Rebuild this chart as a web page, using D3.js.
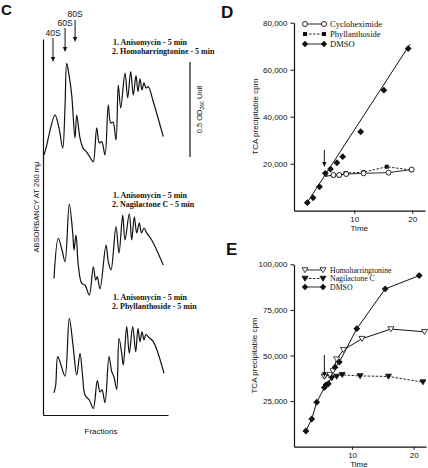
<!DOCTYPE html>
<html><head><meta charset="utf-8">
<script src="https://cdn.jsdelivr.net/npm/d3@7"></script>
<style>body{margin:0;background:#fff}svg{display:block}</style>
</head><body>
<svg id="fig" width="428" height="468"></svg>
<script>
// ---------------- DATA ----------------
// Panel C: sucrose-gradient profiles [fraction, A260]
const profileTreatments = [
  ["1. Anisomycin - 5 min", "2. Homoharringtonine - 5 min"],
  ["1. Anisomycin - 5 min", "2. Nagilactone C - 5 min"],
  ["1. Anisomycin - 5 min", "2. Phyllanthoside - 5 min"]
];
const profileHomoharringtonine = [[0.24,0.053],[0.72,0.089],[2.88,0.263],[3.84,0.195],[4.73,0.089],[5.28,0.305],[5.69,0.535],[6.24,0.474],[6.89,0.368],[7.68,0.142],[8.09,0.263],[8.88,0.142],[9.6,0.089],[10.49,0.068],[11.69,0.026],[12.07,0.017],[12.89,0.195],[13.51,0.116],[14.09,0.123],[14.88,0.053],[15.67,0.316],[16.25,0.221],[16.8,0.226],[17.52,0.132],[18.07,0.421],[18.65,0.3],[19.68,0.484],[20.33,0.353],[21.05,0.491],[21.67,0.368],[22.32,0.47],[22.8,0.386],[23.28,0.453],[23.76,0.395],[24.24,0.432],[24.72,0.405],[25.27,0.412],[26.47,0.333],[28.87,0.149]];
const profileNagilactone = [[2.64,0.114],[3.67,0.325],[4.56,0.263],[5.28,0.202],[6.31,0.505],[7.13,0.353],[7.44,0.263],[7.92,0.342],[8.47,0.184],[9.29,0.088],[10.08,0.079],[11.11,0.026],[12.07,0.175],[12.65,0.105],[13.03,0.123],[13.68,0.058],[15.12,0.289],[15.67,0.202],[16.32,0.158],[17.52,0.386],[18.24,0.247],[19.13,0.447],[19.68,0.316],[20.71,0.453],[21.29,0.316],[21.91,0.438],[22.49,0.353],[23.11,0.405],[23.64,0.353],[24.24,0.379],[24.89,0.353],[26.09,0.316],[28.87,0.184]];
const profilePhyllanthoside = [[2.64,0.117],[3.05,0.158],[3.53,0.307],[4.32,0.263],[5.28,0.205],[6.31,0.509],[7.2,0.368],[8.09,0.211],[8.88,0.325],[9.48,0.211],[10.08,0.105],[11.11,0.079],[12.07,0.035],[13.03,0.181],[13.68,0.121],[14.16,0.132],[14.88,0.065],[15.84,0.307],[16.49,0.228],[17.04,0.2],[17.69,0.135],[18.24,0.404],[18.89,0.325],[19.27,0.263],[20.09,0.465],[20.71,0.325],[21.53,0.465],[22.25,0.333],[22.8,0.456],[23.28,0.386],[23.76,0.438],[24.24,0.395],[24.72,0.425],[25.27,0.411],[26.47,0.386],[29.04,0.219]];
const sedimentationLabels = ["40S", "60S", "80S"];
const sedimentationFractions = [2.4, 5.3, 7.7];
const scaleBarOD = 0.5;

// Panel D: TCA precipitable cpm vs time
const dDMSO = [[1.9,3400],[2.9,5500],[4.0,10200],[5.0,15900],[5.9,17700],[7.0,20400],[8.0,23000],[11.1,33600],[15.1,51300],[19.3,69000]];
const dDMSOFit = [[1.7,2800],[19.6,70800]];
const dCycloheximide = [[5.0,14600],[6.4,15200],[7.4,15200],[8.6,15600],[11.6,15900],[15.9,16200],[19.9,17500]];
const dPhyllanthoside = [[5.0,14800],[6.4,15000],[7.4,15000],[8.5,16000],[11.6,16400],[15.6,18700],[19.9,17300]];
const dTicksY = [20000, 40000, 60000, 80000];
const dTicksX = [10, 20];
const dArrowTime = 5;

// Panel E
const eDMSO = [[2.5,8600],[3.45,15200],[4.26,24400],[5.5,32400],[5.77,33900],[6.15,34500],[7.24,43600],[7.93,46400],[10.76,64700],[15.37,86500],[20.9,93800]];
const eHomoharringtonine = [[5.5,38500],[6.4,39500],[6.9,41500],[7.5,48000],[8.6,53100],[11.6,59200],[16.3,64500],[21.75,63000]];
const eNagilactone = [[5.5,38500],[6.7,37600],[7.5,38500],[8.4,39400],[11.3,38800],[15.9,38500],[21.5,35400]];
const eTicksY = [25000, 50000, 75000, 100000];
const eTicksX = [10, 20];
const eArrowTime = 5.5;

// ---------------- DRAW ----------------
const svg = d3.select("#fig");
const ink = "#111";
const sans = "'Liberation Sans', Arial, sans-serif";
const serif = "'Liberation Serif', 'Times New Roman', serif";

function arrow(g, x, y0, y1) {
  g.append("line").attr("x1", x).attr("x2", x).attr("y1", y0).attr("y2", y1 - 4)
    .attr("stroke", ink).attr("stroke-width", 1);
  g.append("path").attr("d", `M${x-2.2},${y1-5}L${x+2.2},${y1-5}L${x},${y1}Z`).attr("fill", ink);
}

// ===== Panel C =====
const gC = svg.append("g");
gC.append("text").attr("x", 1).attr("y", 15).text("C")
  .attr("font-family", sans).attr("font-weight", "bold").attr("font-size", 15).attr("fill", ink);

const xC = d3.scaleLinear().domain([0, 30]).range([43, 168]);
const cBases = [165, 300, 415];
const yCs = cBases.map(b => d3.scaleLinear().domain([0, 0.5]).range([b, b - 95]));
const profiles = [profileHomoharringtonine, profileNagilactone, profilePhyllanthoside];

const yFrame = d3.scaleLinear().domain([0, 1]).range([415, 39]);
gC.append("g").attr("transform", "translate(43,0)")
  .call(d3.axisLeft(yFrame).tickValues([]).tickSizeOuter(0))
  .select(".domain").attr("stroke", ink).attr("stroke-width", 1.2);
gC.append("g").attr("transform", "translate(0,415)")
  .call(d3.axisBottom(xC).tickValues([]).tickSizeOuter(0))
  .select(".domain").attr("stroke", ink).attr("stroke-width", 1.2);

profiles.forEach((p, i) => {
  const ln = d3.line().curve(d3.curveCatmullRom.alpha(0.5))
    .x(d => xC(d[0])).y(d => yCs[i](d[1]));
  gC.append("path").attr("d", ln(p)).attr("fill", "none")
    .attr("stroke", ink).attr("stroke-width", 1.2);
});

const labelY = [[45, 54], [198, 207], [300, 309]];
profileTreatments.forEach((t, i) => {
  t.forEach((s, j) => {
    gC.append("text").attr("x", 112 + (j === 0 ? 1 : 0)).attr("y", labelY[i][j]).text(s)
      .attr("font-family", serif).attr("font-weight", "bold").attr("font-size", 8).attr("fill", ink);
  });
});

const arrowTops = [[36, 38, 62], [26, 28, 52], [17, 20, 42]];
sedimentationLabels.forEach((s, i) => {
  const x = xC(sedimentationFractions[i]);
  gC.append("text").attr("x", x).attr("y", arrowTops[i][0]).attr("text-anchor", "middle").text(s)
    .attr("font-family", sans).attr("font-size", 8.5).attr("fill", ink);
  arrow(gC, x, arrowTops[i][1], arrowTops[i][2]);
});

const ySB = d3.scaleLinear().domain([0, scaleBarOD]).range([157, 62]);
gC.append("line").attr("x1", 190).attr("x2", 190).attr("y1", ySB(0)).attr("y2", ySB(scaleBarOD))
  .attr("stroke", ink).attr("stroke-width", 1.2);
const sbT = gC.append("text").attr("transform", `translate(202,${ySB(scaleBarOD/2)}) rotate(-90)`)
  .attr("text-anchor", "middle").attr("font-family", sans).attr("font-size", 7.5).attr("fill", ink);
sbT.append("tspan").text(scaleBarOD + " OD");
sbT.append("tspan").text("260").attr("font-size", 5).attr("dy", 2);
sbT.append("tspan").text(" Unit").attr("dy", -2);

gC.append("text").attr("transform", "translate(39,207) rotate(-90)").attr("text-anchor", "middle")
  .text("ABSORBANCY AT 260 mμ").attr("font-family", sans).attr("font-size", 7.6).attr("fill", ink);
gC.append("text").attr("x", 101).attr("y", 434).attr("text-anchor", "middle").text("Fractions")
  .attr("font-family", sans).attr("font-size", 8).attr("fill", ink);

// ===== helpers for D and E =====
function diamond(g, x, y, r) {
  g.append("path").attr("d", `M${x},${y-r}L${x+r},${y}L${x},${y+r}L${x-r},${y}Z`).attr("fill", ink);
}
function triDown(g, x, y, filled) {
  g.append("path").attr("d", `M${x-3},${y-2.3}L${x+3},${y-2.3}L${x},${y+2.7}Z`)
    .attr("fill", filled ? ink : "#fff").attr("stroke", ink).attr("stroke-width", 0.8);
}
function circ(g, x, y) {
  g.append("circle").attr("cx", x).attr("cy", y).attr("r", 2.5).attr("fill", "#fff")
    .attr("stroke", ink).attr("stroke-width", 0.9);
}
function sq(g, x, y) {
  g.append("rect").attr("x", x - 2).attr("y", y - 2).attr("width", 4).attr("height", 4).attr("fill", ink);
}

function axesPanel(g, x, y, ticksX, ticksY, xAxisY, yLabelX) {
  const ax = g.append("g").attr("transform", `translate(0,${xAxisY})`)
    .call(d3.axisBottom(x).tickValues(ticksX).tickSize(3).tickSizeOuter(0).tickPadding(3));
  const ay = g.append("g").attr("transform", `translate(${x.range()[0]},0)`)
    .call(d3.axisLeft(y).tickValues(ticksY).tickSize(3.5).tickSizeOuter(0).tickPadding(3)
      .tickFormat(d3.format(",")));
  [ax, ay].forEach(a => {
    a.select(".domain").attr("stroke", ink).attr("stroke-width", 1.2);
    a.selectAll(".tick line").attr("stroke", ink);
    a.selectAll("text").attr("font-family", sans).attr("font-size", 8).attr("fill", ink);
  });
  const yr = y.range();
  g.append("text").attr("transform", `translate(${yLabelX},${(yr[0] + yr[1]) / 2}) rotate(-90)`)
    .attr("text-anchor", "middle").text("TCA precipitable cpm")
    .attr("font-family", sans).attr("font-size", 8).attr("fill", ink);
  g.append("text").attr("x", (x(10) + x(20)) / 2 - 24).attr("y", xAxisY + 20).attr("text-anchor", "middle")
    .text("Time").attr("font-family", sans).attr("font-size", 8).attr("fill", ink);
}

// ===== Panel D =====
const gD = svg.append("g");
gD.append("text").attr("x", 221).attr("y", 18).text("D")
  .attr("font-family", sans).attr("font-weight", "bold").attr("font-size", 17).attr("fill", ink);
const xD = d3.scaleLinear().domain([-0.4, 22.2]).range([294, 425]);
const yD = d3.scaleLinear().domain([0, 80000]).range([210.7, 22.7]);
axesPanel(gD, xD, yD, dTicksX, dTicksY, 210.7, 258);

const lnD = d3.line().x(d => xD(d[0])).y(d => yD(d[1]));
gD.append("path").attr("d", lnD(dCycloheximide)).attr("fill", "none").attr("stroke", ink).attr("stroke-width", 0.9);
gD.append("path").attr("d", lnD(dPhyllanthoside)).attr("fill", "none").attr("stroke", ink)
  .attr("stroke-width", 0.9).attr("stroke-dasharray", "2.5,1.5");
gD.append("path").attr("d", lnD(dDMSOFit)).attr("fill", "none").attr("stroke", ink).attr("stroke-width", 1);
dPhyllanthoside.slice(1).forEach(d => sq(gD, xD(d[0]), yD(d[1])));
dCycloheximide.slice(1).forEach(d => circ(gD, xD(d[0]), yD(d[1])));
dDMSO.forEach(d => diamond(gD, xD(d[0]), yD(d[1]), 3.4));
arrow(gD, xD(dArrowTime) - 1, 150, 167);

const legD = [["Cycloheximide", "circ", false], ["Phyllanthoside", "sq", true], ["DMSO", "dia", false]];
legD.forEach((l, i) => {
  const ly = 24 + i * 10;
  gD.append("line").attr("x1", 305).attr("x2", 324).attr("y1", ly).attr("y2", ly)
    .attr("stroke", ink).attr("stroke-width", 0.9).attr("stroke-dasharray", l[2] ? "2.5,1.5" : null);
  [305, 324].forEach(x => {
    if (l[1] === "circ") circ(gD, x, ly);
    else if (l[1] === "sq") sq(gD, x, ly);
    else diamond(gD, x, ly, 3.2);
  });
  gD.append("text").attr("x", 330).attr("y", ly + 3).text(l[0])
    .attr("font-family", serif).attr("font-size", 8.5).attr("fill", ink);
});

// ===== Panel E =====
const gE = svg.append("g");
gE.append("text").attr("x", 226).attr("y", 255).text("E")
  .attr("font-family", sans).attr("font-weight", "bold").attr("font-size", 17).attr("fill", ink);
const xE = d3.scaleLinear().domain([0.57, 22.0]).range([294, 426]);
const yE = d3.scaleLinear().domain([0, 100000]).range([446.7, 264.3]);
axesPanel(gE, xE, yE, eTicksX, eTicksY, 446.7, 257);

const lnE = d3.line().x(d => xE(d[0])).y(d => yE(d[1]));
gE.append("path").attr("d", lnE(eNagilactone)).attr("fill", "none").attr("stroke", ink)
  .attr("stroke-width", 0.9).attr("stroke-dasharray", "2.5,1.5");
gE.append("path").attr("d", lnE(eHomoharringtonine)).attr("fill", "none").attr("stroke", ink).attr("stroke-width", 1);
gE.append("path").attr("d", lnE(eDMSO)).attr("fill", "none").attr("stroke", ink).attr("stroke-width", 1);
eNagilactone.forEach(d => triDown(gE, xE(d[0]), yE(d[1]), true));
eHomoharringtonine.forEach(d => triDown(gE, xE(d[0]), yE(d[1]), false));
eDMSO.forEach(d => diamond(gE, xE(d[0]), yE(d[1]), 3.4));
arrow(gE, xE(eArrowTime), 355, 377);

const legE = [["Homoharringtonine", false, false], ["Nagilactone C", true, true], ["DMSO", null, false]];
legE.forEach((l, i) => {
  const ly = 270 + i * 8.5;
  gE.append("line").attr("x1", 305).attr("x2", 323).attr("y1", ly).attr("y2", ly)
    .attr("stroke", ink).attr("stroke-width", 0.9).attr("stroke-dasharray", l[2] ? "2.5,1.5" : null);
  [305, 323].forEach(x => {
    if (l[1] === null) diamond(gE, x, ly, 3.2);
    else triDown(gE, x, ly, l[1]);
  });
  gE.append("text").attr("x", 330).attr("y", ly + 2.8).text(l[0])
    .attr("font-family", serif).attr("font-size", 7.8).attr("fill", ink);
});
</script>
</body></html>
